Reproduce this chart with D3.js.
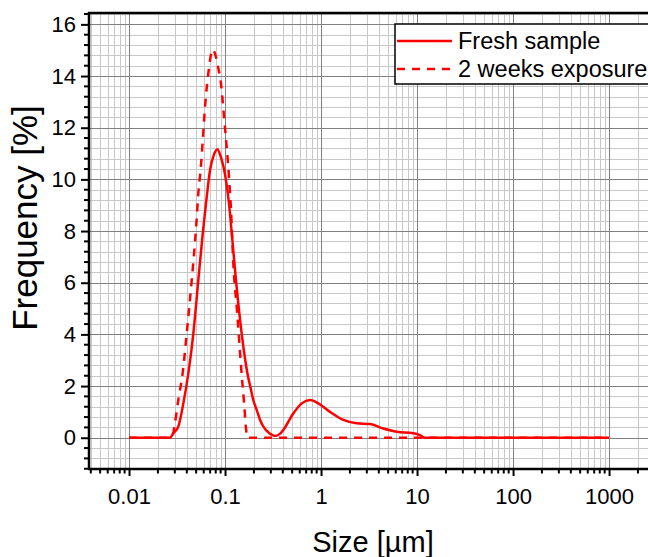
<!DOCTYPE html>
<html>
<head>
<meta charset="utf-8">
<script src="https://cdn.jsdelivr.net/npm/d3@7"></script>
<style>
  body { margin: 0; background: #fff; overflow: hidden; }
  text { font-family: "Liberation Sans", Arial, sans-serif; fill: #000; }
</style>
</head>
<body>
<svg id="chart" width="648" height="557"></svg>
<script>
// Fresh sample (size in um, frequency in %)
var freshSize = [0.01, 0.0267, 0.0289, 0.0326, 0.0368, 0.0415, 0.0468, 0.0527, 0.0586, 0.0645, 0.0698, 0.0765,
                 0.0832, 0.0908, 0.1, 0.110, 0.117, 0.130, 0.149, 0.171, 0.184, 0.197, 0.214, 0.232, 0.251, 0.29,
                 0.33, 0.37, 0.405, 0.514, 0.63, 0.768, 0.938, 1.24, 1.71, 2.35, 3.24, 4.45, 6.15, 9.14, 10.7, 12.1, 1000];
var freshFreq = [0, 0, 0.17, 0.43, 1.33, 2.49, 4.04, 6.1, 7.9, 9.33, 10.36, 10.95,
                 11.17, 10.85, 10.2, 9.07, 8.0, 6.1, 4.04, 2.5, 1.95, 1.46, 1.07, 0.69, 0.43, 0.17,
                 0.07, 0.14, 0.3, 0.94, 1.33, 1.46, 1.33, 1.0, 0.69, 0.56, 0.53, 0.36, 0.23, 0.17, 0.1, 0, 0];

// 2 weeks exposure
var expoSize = [0.01, 0.0267, 0.0285, 0.0301, 0.0326, 0.0362, 0.0399, 0.045, 0.0499, 0.0527, 0.0558, 0.0586,
                0.0619, 0.067, 0.0745, 0.0852, 0.0908, 0.0977, 0.104, 0.110, 0.1155, 0.122, 0.134, 0.146,
                0.158, 0.166, 0.171, 1000];
var expoFreq = [0, 0, 0.1, 0.57, 1.46, 2.5, 4.04, 6.1, 8.1, 9.46, 10.4, 11.5,
                12.8, 14.1, 15.02, 14.3, 13.7, 12.4, 11.27, 10.1, 8.8, 6.75, 4.82, 2.88,
                1.33, 0.3, 0, 0];

var xMajor = [0.01, 0.1, 1, 10, 100, 1000];
var xLabels = ["0.01", "0.1", "1", "10", "100", "1000"];
var yMajor = [0, 2, 4, 6, 8, 10, 12, 14, 16];

var seriesNames = ["Fresh sample", "2 weeks exposure"];

var svg = d3.select("#chart");
var pLeft = 89, pRight = 655, pTop = 13, pBottom = 469;

var x = d3.scaleLog().domain([0.00383, 3010]).range([pLeft, pRight]);
var y = d3.scaleLinear().domain([-1.21, 16.44]).range([pBottom, pTop]);

// minor positions
var xMinor = [];
[0.001, 0.01, 0.1, 1, 10, 100, 1000].forEach(function(d) {
    for (var k = 2; k <= 9; k++) {
        var v = d * k;
        if (v > x.domain()[0] && v < x.domain()[1]) xMinor.push(v);
    }
});
var yMinor = [];
for (var i = -3; i <= 41; i++) {
    var v = +(i * 0.4).toFixed(1);
    if (v >= y.domain()[0] && v <= y.domain()[1] && yMajor.indexOf(v) < 0) yMinor.push(v);
}

svg.append("clipPath").attr("id", "plotclip")
    .append("rect").attr("x", pLeft).attr("y", pTop).attr("width", pRight - pLeft).attr("height", pBottom - pTop);

function px(v) { return Math.round(v) + 0.5; }

var grid = svg.append("g").attr("clip-path", "url(#plotclip)");
grid.selectAll(".hminor").data(yMinor).enter().append("line")
    .attr("x1", pLeft).attr("x2", pRight)
    .attr("y1", function(d) { return px(y(d)); })
    .attr("y2", function(d) { return px(y(d)); })
    .attr("stroke", "#c8c8c8").attr("stroke-width", 1);
grid.selectAll(".vminor").data(xMinor).enter().append("line")
    .attr("y1", pTop).attr("y2", pBottom)
    .attr("x1", function(d) { return px(x(d)); })
    .attr("x2", function(d) { return px(x(d)); })
    .attr("stroke", "#c8c8c8").attr("stroke-width", 1);
grid.selectAll(".hmajor").data(yMajor).enter().append("line")
    .attr("x1", pLeft).attr("x2", pRight)
    .attr("y1", function(d) { return px(y(d)); })
    .attr("y2", function(d) { return px(y(d)); })
    .attr("stroke", "#808080").attr("stroke-width", 1);
grid.selectAll(".vmajor").data(xMajor).enter().append("line")
    .attr("y1", pTop).attr("y2", pBottom)
    .attr("x1", function(d) { return px(x(d)); })
    .attr("x2", function(d) { return px(x(d)); })
    .attr("stroke", "#808080").attr("stroke-width", 1);

// curves
var line = d3.line()
    .x(function(d) { return x(d[0]); })
    .y(function(d) { return y(d[1]); })
    .curve(d3.curveMonotoneX);

var plot = svg.append("g").attr("clip-path", "url(#plotclip)");
plot.append("path")
    .datum(d3.zip(expoSize, expoFreq))
    .attr("d", line).attr("fill", "none")
    .attr("stroke", "#ff0000").attr("stroke-width", 2.5)
    .attr("stroke-dasharray", "8,7");
plot.append("path")
    .datum(d3.zip(freshSize, freshFreq))
    .attr("d", line).attr("fill", "none")
    .attr("stroke", "#ff0000").attr("stroke-width", 2.5);

// axes
var xAxis = svg.append("g").attr("transform", "translate(0," + pBottom + ")");
xAxis.call(d3.axisBottom(x).tickValues(xMajor).tickFormat(function(d, i) { return xLabels[i]; })
    .tickSize(7).tickPadding(12));
xAxis.append("g").selectAll("line").data(xMinor).enter().append("line")
    .attr("x1", function(d) { return x(d); }).attr("x2", function(d) { return x(d); })
    .attr("y1", 0).attr("y2", 4.5).attr("stroke", "#000").attr("stroke-width", 2);
xAxis.select(".domain").remove();
xAxis.append("line").attr("x1", pLeft - 1).attr("x2", 648).attr("y1", 0).attr("y2", 0)
    .attr("stroke", "#000").attr("stroke-width", 2.5);

var yAxis = svg.append("g").attr("transform", "translate(" + pLeft + ",0)");
yAxis.call(d3.axisLeft(y).tickValues(yMajor).tickSize(8).tickPadding(5));
yAxis.append("g").selectAll("line").data(yMinor).enter().append("line")
    .attr("y1", function(d) { return y(d); }).attr("y2", function(d) { return y(d); })
    .attr("x1", 0).attr("x2", -5).attr("stroke", "#000").attr("stroke-width", 2);
yAxis.select(".domain").remove();
yAxis.append("line").attr("x1", 0).attr("x2", 0).attr("y1", pTop - 1).attr("y2", pBottom + 1)
    .attr("stroke", "#000").attr("stroke-width", 2.5);

svg.selectAll(".tick line").attr("stroke-width", 2);
svg.selectAll(".tick text").style("font-size", "22px").style("font-family", "'Liberation Sans', Arial, sans-serif");

// top frame
svg.append("line").attr("x1", pLeft - 1).attr("x2", 648).attr("y1", pTop).attr("y2", pTop)
    .attr("stroke", "#000").attr("stroke-width", 2.5);

// titles
svg.append("text").attr("x", 373).attr("y", 552).attr("text-anchor", "middle")
    .style("font-size", "29px").text("Size [\u00b5m]");
svg.append("text").attr("transform", "translate(37,218) rotate(-90)").attr("text-anchor", "middle")
    .style("font-size", "35px").text("Frequency [%]");

// legend
var lg = svg.append("g");
lg.append("rect").attr("x", 395).attr("y", 24).attr("width", 270).attr("height", 60)
    .attr("fill", "#fff").attr("stroke", "#000").attr("stroke-width", 1.5);
seriesNames.forEach(function(name, i) {
    var ly = 41 + i * 28;
    lg.append("line").attr("x1", 397).attr("x2", 452).attr("y1", ly).attr("y2", ly)
        .attr("stroke", "#ff0000").attr("stroke-width", 2.5)
        .attr("stroke-dasharray", i == 1 ? "8,7" : null);
    lg.append("text").attr("x", 458).attr("y", ly + 8).style("font-size", "23.5px").text(name);
});
</script>
</body>
</html>
